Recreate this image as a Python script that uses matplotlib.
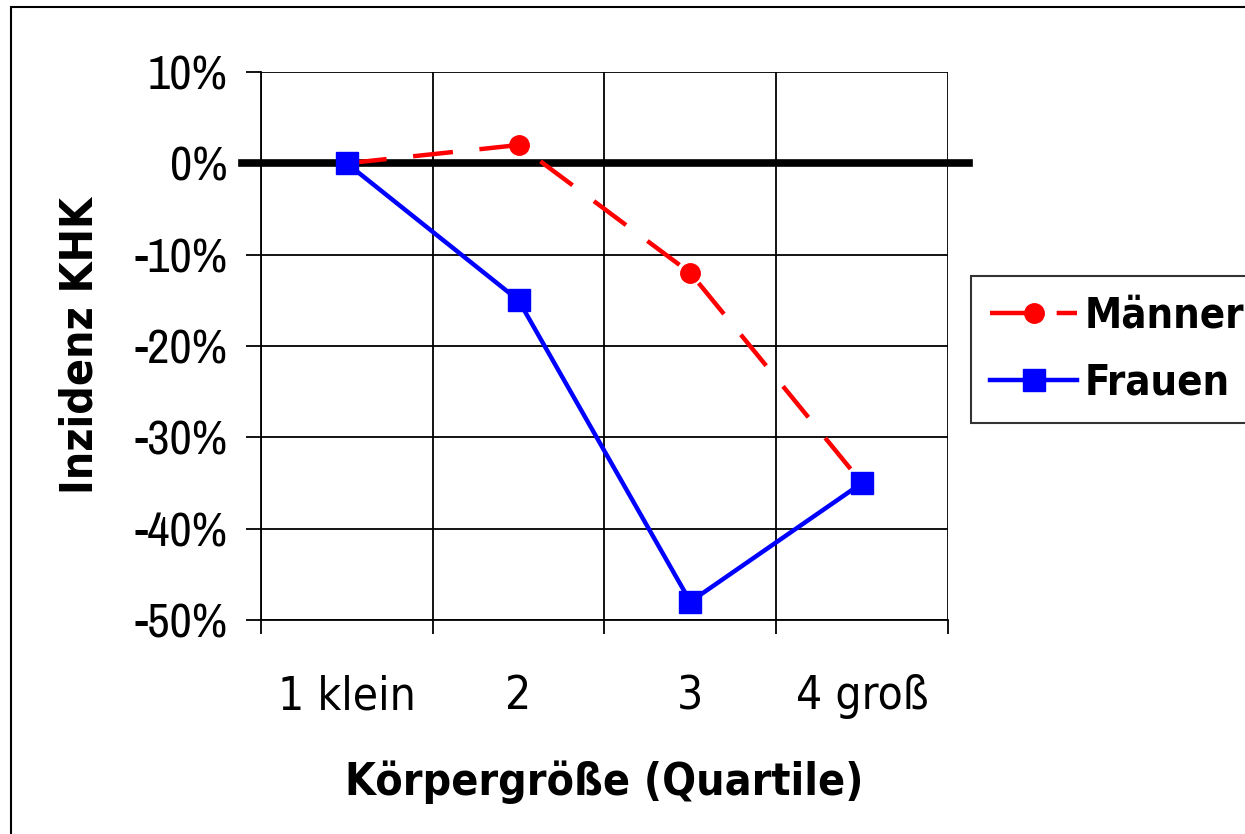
import matplotlib.pyplot as plt
from matplotlib.patches import Rectangle
from matplotlib.ticker import FixedLocator, FuncFormatter

# Data
categories = ['1 klein', '2', '3', '4 groß']
maenner = [0, 2, -12, -35]
frauen = [0, -15, -48, -35]

plt.rcParams['axes.unicode_minus'] = False
label_font = dict(family='DejaVu Sans', stretch='condensed')
tick_font = ['Liberation Sans Narrow', 'Archivo Narrow']

fig = plt.figure(figsize=(12.45, 8.34), dpi=100)
ax = fig.add_axes([0.2096, 0.2566, 0.7614 - 0.2096, 0.9137 - 0.2566])

x = list(range(len(categories)))
ax.plot(x, maenner, color='#ff0000', lw=3.2, ls=(0, (9, 6)), marker='o',
        ms=14, label='Männer', zorder=4, clip_on=False)
ax.plot(x, frauen, color='#0000ff', lw=3.2, marker='s', ms=16,
        label='Frauen', zorder=5, clip_on=False)

# thick zero line, reaching a little past the axes like in the reference
ax.axhline(0, xmin=-0.028, xmax=1.03, color='black', lw=5.5, zorder=3,
           clip_on=False)

ax.set_xlim(-0.5, 3.5)
ax.set_ylim(-50, 10)

# categories in the middle, gridlines/ticks between them
ax.xaxis.set_major_locator(FixedLocator(x))
ax.xaxis.set_minor_locator(FixedLocator([i - 0.5 for i in range(len(categories) + 1)]))
ax.set_xticklabels(categories, fontsize=33, **label_font)
ax.tick_params(axis='x', which='major', length=0, pad=39)
ax.tick_params(axis='x', which='minor', length=10, width=1.3, direction='out')
ax.set_yticks(range(-50, 11, 10))
ax.yaxis.set_major_formatter(FuncFormatter(lambda v, p: '%d%%' % v))
ax.tick_params(axis='y', length=11, width=1.3, direction='out', pad=13)
for t in ax.get_yticklabels():
    t.set_family(tick_font)
    t.set_fontsize(35)

ax.grid(True, axis='y', which='major', color='black', lw=1.3)
ax.grid(True, axis='x', which='minor', color='black', lw=1.3)
ax.grid(False, axis='x', which='major')
ax.set_axisbelow(True)
for s in ['top', 'right']:
    ax.spines[s].set_visible(False)
for s in ['left', 'bottom']:
    ax.spines[s].set_linewidth(1.3)

ax.set_xlabel('Körpergröße (Quartile)', fontsize=32, fontweight='bold',
              labelpad=30, **label_font)
ax.set_ylabel('Inzidenz KHK', fontsize=32, fontweight='bold',
              labelpad=24, **label_font)

leg = fig.legend(loc='upper left', bbox_to_anchor=(971 / 1245, 1 - 276 / 834),
                 prop=dict(weight='bold', size=30, **label_font),
                 frameon=True, fancybox=False, edgecolor='black',
                 handlelength=2.1, handletextpad=0.18, borderpad=0.45,
                 labelspacing=0.6, borderaxespad=0)
leg.get_frame().set_linewidth(1.5)

# outer chart border
fig.patches.append(Rectangle((11 / 1245, -0.01), 1.05, 1 - 7 / 834 + 0.01,
                             transform=fig.transFigure, fill=False,
                             edgecolor='black', lw=1.5))

fig.savefig('out.png', dpi=100)
